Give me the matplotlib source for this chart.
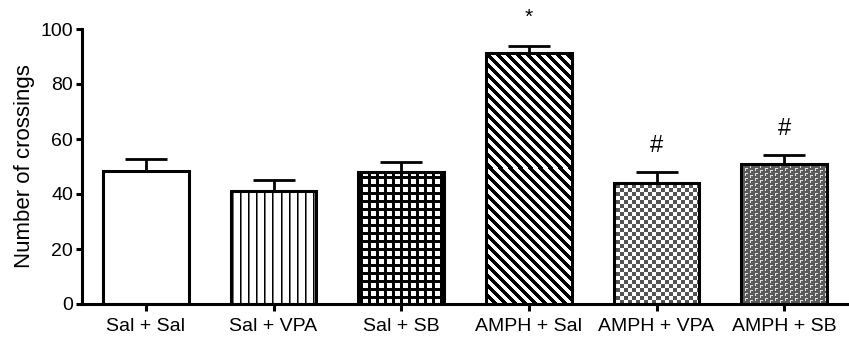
import numpy as np
import matplotlib
matplotlib.use("Agg")
import matplotlib.pyplot as plt

plt.rcParams['font.family'] = ['Liberation Sans', 'DejaVu Sans']

categories = ["Sal + Sal", "Sal + VPA", "Sal + SB", "AMPH + Sal", "AMPH + VPA", "AMPH + SB"]
means = [48.4, 41.1, 48.0, 91.3, 44.0, 50.9]
sems = [4.3, 4.0, 3.6, 2.5, 4.0, 3.3]
marks = ["", "", "", "*", "#", "#"]
patterns = ["white", "vlines", "grid", "diag", "checker", "fine"]

W, H = 849, 341
fig = plt.figure(figsize=(W / 100, H / 100), dpi=100)
ax = fig.add_axes([82 / W, 37 / H, (848 - 82) / W, (304 - 29) / H])

x = np.arange(len(categories))
ax.set_xlim(-0.5, len(categories) - 0.5)
ax.set_ylim(0, 100)

bars = ax.bar(x, means, width=0.67, facecolor='none', edgecolor='black',
              linewidth=2.2, zorder=3)
ax.bar(x, means, width=0.67, facecolor='white', edgecolor='none', zorder=2)

ax.errorbar(x, means, yerr=[np.zeros(len(means)), sems], fmt='none',
            ecolor='black', elinewidth=2.0, capsize=15, capthick=2.0, zorder=1)


def pattern_rgb(kind, X, Y):
    # X: column index (px, from left); Y: row index (px, from top)
    img = np.ones(X.shape + (3,))
    if kind == "vlines":
        img[(X % 8 == 0)] = 0.0
        img[(X % 8 == 1)] = 0.45
    elif kind == "grid":
        m = ((X % 8) < 3) | ((Y % 8) < 3)
        img[m] = 0.0
    elif kind == "diag":
        m = ((X - Y) % 10) < 5
        img[m] = 0.0
    elif kind == "checker":
        m = ((X // 4 + Y // 4) % 2) == 0
        img[m] = 0.33
        img[~m] = 1.0
    elif kind == "fine":
        img[:] = 0.36
        tx = X % 5
        ty = (Y + 2 * ((X // 5) % 2)) % 5
        light = ((ty == 0) & (tx < 3)) | ((tx == 0) & (ty < 3))
        img[light] = 0.88
    return img


fig.canvas.draw()
for b, kind in zip(bars, patterns):
    if kind == "white":
        continue
    bx0, by0 = b.get_x(), b.get_y()
    bx1, by1 = bx0 + b.get_width(), by0 + b.get_height()
    (px0, py0), (px1, py1) = ax.transData.transform([(bx0, by0), (bx1, by1)])
    c0, c1 = int(np.floor(px0)), int(np.ceil(px1))
    r0, r1 = int(np.floor(py0)), int(np.ceil(py1))
    cols = np.arange(c0, c1)
    rows_top = H - np.arange(r1, r0, -1)
    X, Y = np.meshgrid(cols, rows_top)
    img = pattern_rgb(kind, X, Y)
    inv = ax.transData.inverted()
    (dx0, dy0), (dx1, dy1) = inv.transform([(c0, r0), (c1, r1)])
    im = ax.imshow(img, extent=(dx0, dx1, dy0, dy1), interpolation='nearest',
                   aspect='auto', zorder=2.5)
    im.set_clip_path(b)

ax.set_xlim(-0.5, len(categories) - 0.5)
ax.set_ylim(0, 100)

for xi, m, s in zip(x, marks, sems):
    if not m:
        continue
    yi = means[xi] + s
    if m == "*":
        ax.annotate(m, (xi, yi), xytext=(0, 14), textcoords='offset points',
                    ha='center', va='bottom', fontsize=15, annotation_clip=False)
    else:
        ax.annotate(m, (xi, yi), xytext=(0, 19), textcoords='offset points',
                    ha='center', va='center', fontsize=17, annotation_clip=False)

ax.set_xticks(x)
ax.set_xticklabels(categories, fontsize=14)
ax.set_yticks(np.arange(0, 101, 20))
ax.tick_params(axis='y', labelsize=14, length=4.5, width=2.2, direction='out', pad=2)
ax.tick_params(axis='x', labelsize=14, length=5, width=2.2, direction='out', pad=5)
ax.set_ylabel("Number of crossings", fontsize=16, labelpad=4)

for sp in ['top', 'right']:
    ax.spines[sp].set_visible(False)
for sp in ['left', 'bottom']:
    ax.spines[sp].set_linewidth(2.2)

fig.savefig("out.png", dpi=100)
